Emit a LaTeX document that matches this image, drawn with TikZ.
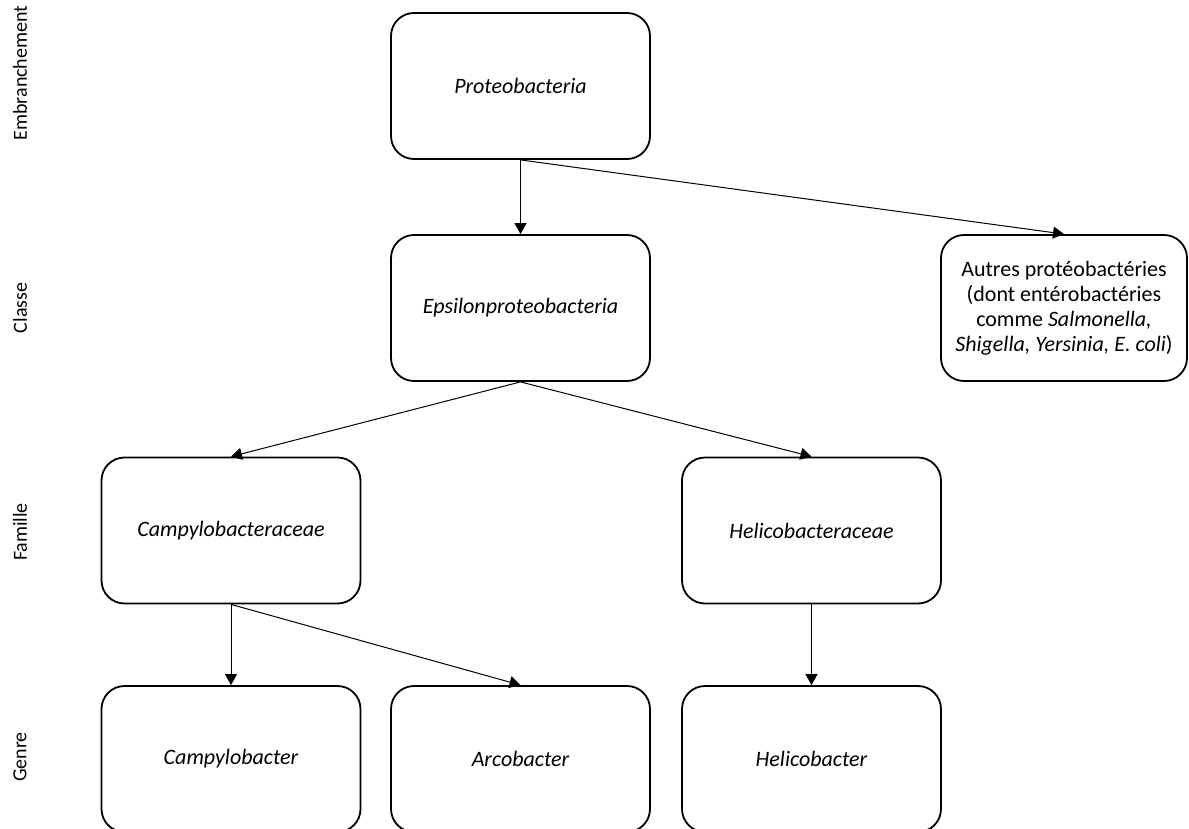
\documentclass[tikz,border=0pt]{standalone}
\usepackage{fontspec}
\setmainfont{Carlito}
\usetikzlibrary{arrows.meta}
\begin{document}
\begin{tikzpicture}[x=0.5pt,y=-0.5pt,
  box/.style={draw, line width=0.9pt, rounded corners=11.5pt, minimum width=129.5pt, minimum height=73pt, align=center, font=\fontsize{11}{12.5}\selectfont\itshape, inner sep=0pt},
  plainbox/.style={box, font=\fontsize{11}{12.5}\selectfont},
  link/.style={draw=black, line width=0.5pt, -{Triangle[length=5.5pt,width=6pt]}},
  rank/.style={rotate=90, font=\fontsize{10}{12}\selectfont, inner sep=0pt}]
\useasboundingbox (0,0) rectangle (1189,829);
\clip (0,0) rectangle (1189,829);
\node[rank] (r1) at (20,73) {Embranchement};
\node[rank] (r2) at (20,308) {Classe};
\node[rank] (r3) at (20,532) {Famille};
\node[rank] (r4) at (20,757) {Genre};
\node[box] (proteo) at (520.5,86) {Proteobacteria};
\node[box] (epsilon) at (520.5,308) {Epsilonproteobacteria};
\node[plainbox, minimum width=123pt] (autres) at (1064,308) {Autres protéobactéries\\(dont entérobactéries\\comme \textit{Salmonella,}\\\textit{Shigella, Yersinia, E. coli})};
\node[box] (campyfam) at (231,530.5) {Campylobacteraceae};
\node[box] (helifam) at (811.5,530.5) {Helicobacteraceae};
\node[box] (campy) at (231,759) {Campylobacter};
\node[box] (arco) at (520.5,759) {Arcobacter};
\node[box] (heli) at (811.5,759) {Helicobacter};
\draw[link] (proteo.south) -- (epsilon.north);
\draw[link] (proteo.south) -- (autres.north);
\draw[link] (epsilon.south) -- (campyfam.north);
\draw[link] (epsilon.south) -- (helifam.north);
\draw[link] (campyfam.south) -- (campy.north);
\draw[link] (campyfam.south) -- (arco.north);
\draw[link] (helifam.south) -- (heli.north);
\end{tikzpicture}
\end{document}
